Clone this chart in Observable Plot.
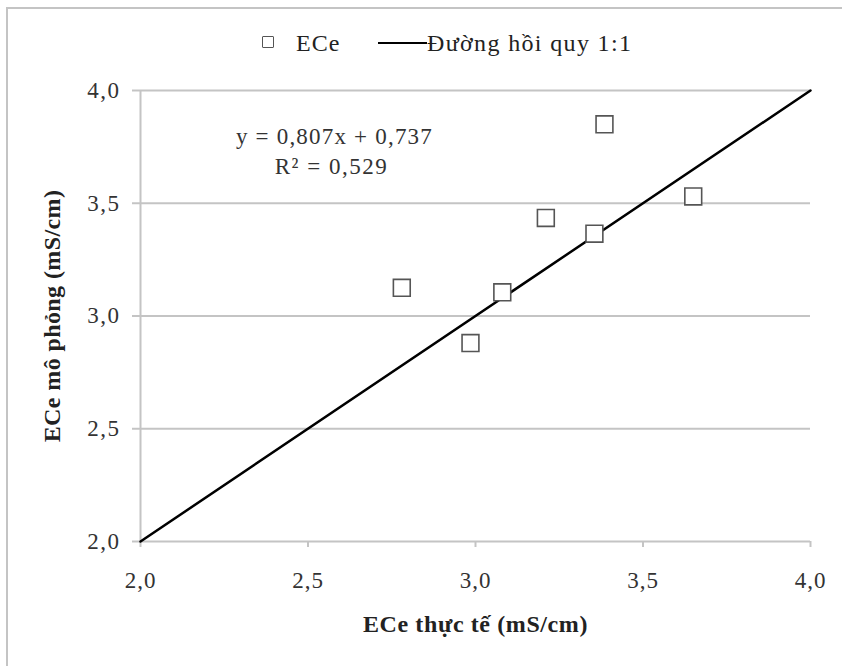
<!DOCTYPE html>
<html>
<head>
<meta charset="utf-8">
<script src="https://cdn.jsdelivr.net/npm/d3@7"></script>
<script src="https://cdn.jsdelivr.net/npm/@observablehq/plot@0.6"></script>
<style>
  html, body { margin: 0; padding: 0; background: #fff; overflow: hidden; }
  #wrap { position: relative; width: 842px; height: 666px; overflow: hidden; font-family: "Liberation Serif", "Times New Roman", serif; }
  #chart svg { display: block; }
  #chart g[aria-label="y-axis tick label"] text { letter-spacing: 1.5px; }
  #chart g[aria-label="x-axis tick label"] text { letter-spacing: 1px; }
  #frame { position: absolute; left: 6px; top: 7px; width: 1000px; height: 1000px; border-left: 2px solid #c4c4c4; border-top: 2px solid #c4c4c4; pointer-events: none; }
  #legend { position: absolute; top: 0; left: 0; width: 842px; height: 70px; font-size: 24px; line-height: 24px; color: #222; }
  .sq { position: absolute; left: 262px; top: 36px; width: 10px; height: 10px; border: 1.6px solid #555; border-radius: 1px; }
  .lbl1 { position: absolute; left: 296px; top: 31px; letter-spacing: 1px; }
  .ln { position: absolute; left: 378px; top: 42px; width: 49px; height: 0; border-top: 2.5px solid #000; }
  .lbl2 { position: absolute; left: 427px; top: 31px; letter-spacing: 1.35px; }
</style>
</head>
<body>
<div id="wrap">
  <div id="chart"></div>
  <div id="frame"></div>
  <div id="legend">
    <div class="sq"></div><div class="lbl1">ECe</div>
    <div class="ln"></div><div class="lbl2">Đường hồi quy 1:1</div>
  </div>
</div>
<script>
// Observed ECe (x) vs simulated ECe (y), mS/cm
const ecActual    = [2.78, 2.985, 3.08, 3.21, 3.355, 3.385, 3.65];
const ecSimulated = [3.125, 2.88, 3.105, 3.435, 3.365, 3.85, 3.53];
const lineX = [2.0, 4.0];          // 1:1 line
const xTicks = [2.0, 2.5, 3.0, 3.5, 4.0];
const yTicks = [2.0, 2.5, 3.0, 3.5, 4.0];
const gridTicks = [2.5, 3.0, 3.5, 4.0];
const equationLines = ["y = 0,807x + 0,737", "R² = 0,529"];
const xLabel = "ECe thực tế (mS/cm)";
const yLabel = "ECe mô phỏng (mS/cm)";

const points = ecActual.map((x, i) => ({x, y: ecSimulated[i]}));
const oneToOne = lineX.map(v => ({x: v, y: v}));
const fmt = d => d.toFixed(1).replace(".", ",");
const font = "'Liberation Serif', 'Times New Roman', serif";

const chart = Plot.plot({
  width: 842,
  height: 666,
  marginLeft: 140,
  marginRight: 32,
  marginTop: 90,
  marginBottom: 125,
  style: {fontFamily: font, fontSize: "23px", color: "#333", background: "transparent"},
  x: {domain: [2, 4]},
  y: {domain: [2, 4]},
  marks: [
    Plot.gridY(gridTicks, {stroke: "#c4c4c4", strokeOpacity: 1, strokeWidth: 2}),
    Plot.ruleX([2], {stroke: "#c4c4c4", strokeWidth: 2}),
    Plot.ruleY([2], {stroke: "#c4c4c4", strokeWidth: 2}),
    Plot.axisY({ticks: yTicks, tickFormat: fmt, tickSize: 8, tickPadding: 12, stroke: "#c4c4c4", strokeWidth: 2, label: null, fill: "#333", fontSize: 23, fontFamily: font}),
    Plot.axisX({ticks: xTicks, tickFormat: fmt, tickSize: 6, tickPadding: 24, stroke: "#c4c4c4", strokeWidth: 2, label: null, fill: "#333", fontSize: 23, fontFamily: font}),
    Plot.line(oneToOne, {x: "x", y: "y", stroke: "#000", strokeWidth: 2.5}),
    Plot.dot(points, {x: "x", y: "y", symbol: "square", r: 9.5, stroke: "#555", strokeWidth: 1.6, fill: "white"}),
    Plot.text([equationLines[0]], {x: 2.579, y: 3.797, text: d => d, fill: "#333", fontSize: 23, fontFamily: font}),
    Plot.text([equationLines[1]], {x: 2.57, y: 3.664, text: d => d, fill: "#333", fontSize: 23, fontFamily: font}),
    Plot.text([xLabel], {frameAnchor: "bottom", dy: 90, text: d => d, fontWeight: "bold", fontSize: 24, fill: "#222", fontFamily: font}),
    Plot.text([yLabel], {frameAnchor: "left", textAnchor: "middle", dx: -88, rotate: -90, text: d => d, fontWeight: "bold", fontSize: 24, fill: "#222", fontFamily: font})
  ]
});
const spacing = new Map([[equationLines[0], "1.2px"], [equationLines[1], "1.5px"], [xLabel, "0.6px"], [yLabel, "0.4px"]]);
d3.select(chart).selectAll("text").each(function() {
  const s = spacing.get(this.textContent);
  if (s) this.style.letterSpacing = s;
});
document.getElementById("chart").appendChild(chart);
</script>
</body>
</html>
